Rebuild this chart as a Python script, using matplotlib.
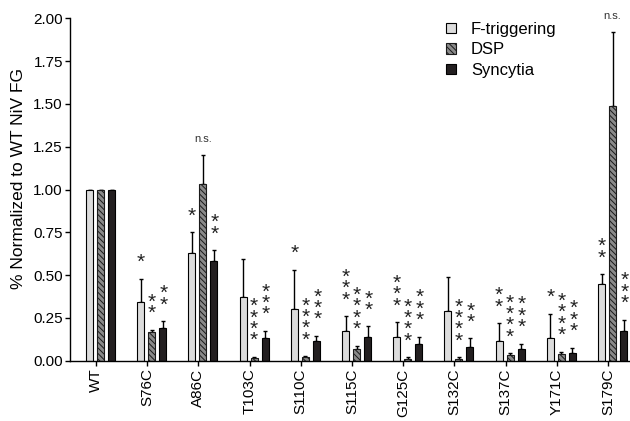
import matplotlib
matplotlib.use("Agg")
import matplotlib.pyplot as plt
from matplotlib.patches import Patch
import numpy as np

plt.rcParams['font.family'] = ['Liberation Sans', 'DejaVu Sans']
plt.rcParams['hatch.linewidth'] = 0.7

# ---------------- data ----------------
categories = ["WT", "S76C", "A86C", "T103C", "S110C", "S115C",
              "G125C", "S132C", "S137C", "Y171C", "S179C"]
f_trig = [1.00, 0.345, 0.63, 0.37, 0.30, 0.175, 0.14, 0.29, 0.115, 0.135, 0.45]
f_trig_err = [0.0, 0.135, 0.12, 0.225, 0.23, 0.085, 0.085, 0.20, 0.105, 0.14, 0.055]
dsp = [1.00, 0.165, 1.03, 0.015, 0.02, 0.07, 0.012, 0.012, 0.032, 0.04, 1.485]
dsp_err = [0.0, 0.015, 0.17, 0.008, 0.006, 0.018, 0.008, 0.008, 0.011, 0.013, 0.435]
syncytia = [1.00, 0.19, 0.58, 0.135, 0.115, 0.14, 0.098, 0.079, 0.067, 0.047, 0.176]
syncytia_err = [0.0, 0.04, 0.065, 0.04, 0.03, 0.06, 0.043, 0.051, 0.033, 0.029, 0.064]

f_sig = ["", "*", "*", "", "*", "***", "***", "", "**", "*", "**"]
dsp_sig = ["", "**", "n.s.", "****", "****", "****", "****", "****", "****", "****", "n.s."]
syn_sig = ["", "**", "**", "***", "***", "**", "***", "**", "***", "***", "***"]

series_labels = ["F-triggering", "DSP", "Syncytia"]
y_ticks = [0.00, 0.25, 0.50, 0.75, 1.00, 1.25, 1.50, 1.75, 2.00]

# ---------------- figure ----------------
fig = plt.figure(figsize=(6.30, 4.21), dpi=100)
ax = fig.add_axes([70 / 630, 60.3 / 421, 560 / 630, 342.4 / 421])

x = np.arange(len(categories))
width = 0.137
step = 0.215

styles = [
    dict(facecolor="#dcdcdc", edgecolor="black", hatch=None),
    dict(facecolor="#8a8a8a", edgecolor="#1a1a1a", hatch="\\\\\\\\\\\\"),
    dict(facecolor="#231f20", edgecolor="black", hatch=None),
]
vals = [f_trig, dsp, syncytia]
errs = [f_trig_err, dsp_err, syncytia_err]
sigs = [f_sig, dsp_sig, syn_sig]

for k in range(3):
    xs = x + (k - 1) * step
    v = np.array(vals[k])
    e = np.array(errs[k])
    ax.errorbar(xs, v, yerr=[np.zeros_like(e), e], fmt="none", ecolor="black",
                elinewidth=1.0, capsize=1.6, capthick=1.0, zorder=1)
    ax.bar(xs, v, width=width, linewidth=0.8, zorder=2, **styles[k])
    # significance marks (stars stacked vertically)
    for i, s in enumerate(sigs[k]):
        if not s:
            continue
        top = v[i] + e[i]
        if s == "n.s.":
            ax.annotate(s, (xs[i], top), xytext=(0, 11.5), textcoords="offset points",
                        ha="center", va="center", fontsize=8, color="#333333",
                        annotation_clip=False)
        else:
            ax.annotate("\n".join(s), (xs[i], top), xytext=(0.6 if k == 2 else 0, 4.8),
                        textcoords="offset points", ha="center", va="bottom",
                        fontsize=15, linespacing=0.49, color="#222222",
                        annotation_clip=False)

ax.set_xlim(-0.596, 10.34)
ax.set_ylim(0, 2.0)
ax.set_yticks(y_ticks)
ax.set_yticklabels([f"{t:.2f}" for t in y_ticks], fontsize=11)
ax.set_xticks(x - 0.088)
ax.set_xticklabels(categories, rotation=90, fontsize=11)
ax.tick_params(axis="y", length=3.6, width=1.0, pad=1.5)
ax.tick_params(axis="x", length=3.6, width=1.0, pad=2)

for sp in ["top", "right"]:
    ax.spines[sp].set_visible(False)
for sp in ["left", "bottom"]:
    ax.spines[sp].set_linewidth(1.0)

ax.set_ylabel("% Normalized to WT NiV FG", fontsize=12.5)
ax.yaxis.set_label_coords(-0.079, 0.532)

handles = [Patch(facecolor=styles[k]["facecolor"], edgecolor=styles[k]["edgecolor"],
                 hatch=styles[k]["hatch"], linewidth=0.8) for k in range(3)]
leg = ax.legend(handles, series_labels, loc="upper left",
                bbox_to_anchor=(446 / 630, 1 - 22 / 421), bbox_transform=fig.transFigure,
                frameon=False, fontsize=12, handlelength=0.6, handleheight=0.6,
                handletextpad=0.9, labelspacing=0.33, borderpad=0, borderaxespad=0)

fig.savefig("out.png", dpi=100)
